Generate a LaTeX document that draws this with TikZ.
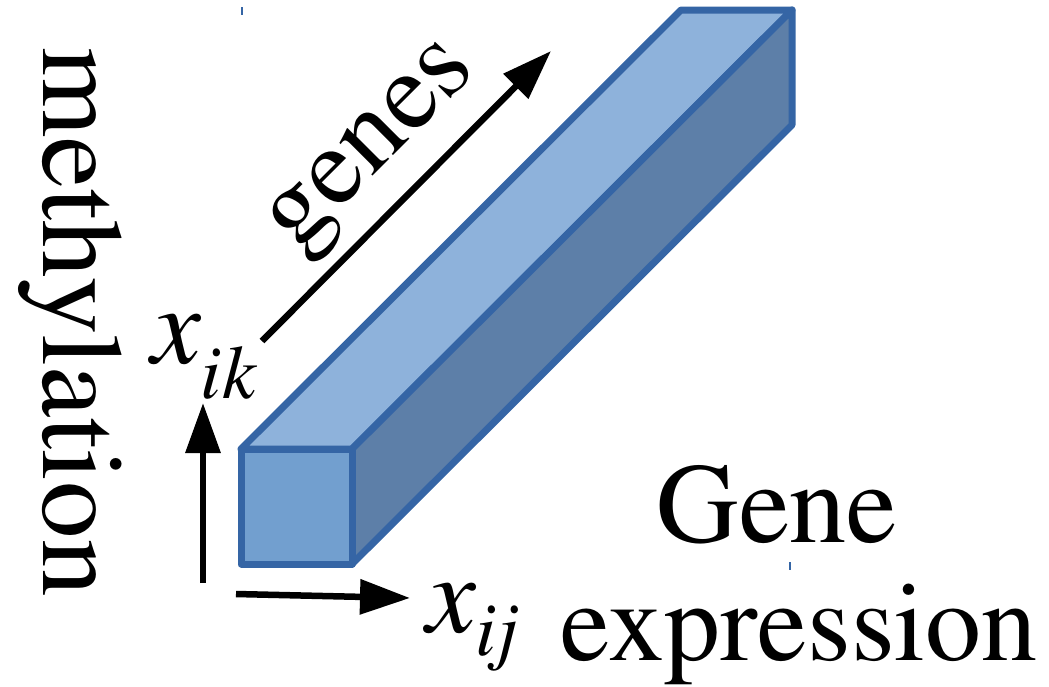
\documentclass[tikz,border=0pt]{standalone}
\usepackage[T1]{fontenc}
\usepackage{mathptmx}
\usetikzlibrary{arrows.meta}
\definecolor{edgeblue}{RGB}{53,101,165}
\definecolor{frontblue}{RGB}{114,159,207}
\definecolor{topblue}{RGB}{142,178,219}
\definecolor{sideblue}{RGB}{93,127,168}
\tikzset{
  face/.style={draw=edgeblue,line width=7pt,line join=round},
  axisarrow/.style={line width=6.5pt,-{Triangle[length=50pt,width=34pt]}},
  bigtext/.style={font=\rmfamily\fontsize{112}{112}\selectfont,inner sep=0pt},
  tick/.style={edgeblue,line width=2pt}
}
\begin{document}
\begin{tikzpicture}[x=1pt,y=-1pt]
\useasboundingbox (0,0) rectangle (1049,686);
% box corners
\coordinate (ftl) at (241,449);
\coordinate (ftr) at (352,449);
\coordinate (fbr) at (352,564);
\coordinate (fbl) at (241,564);
\coordinate (btl) at (681,10);
\coordinate (btr) at (792,10);
\coordinate (bbr) at (792,125);
% faces
\filldraw[face,fill=topblue] (ftl) -- (ftr) -- (btr) -- (btl) -- cycle;
\filldraw[face,fill=sideblue] (ftr) -- (btr) -- (bbr) -- (fbr) -- cycle;
\filldraw[face,fill=frontblue] (ftl) -- (ftr) -- (fbr) -- (fbl) -- cycle;
% stray ticks
\coordinate (t1a) at (242,7); \coordinate (t1b) at (242,15);
\coordinate (t2a) at (790,562); \coordinate (t2b) at (790,570);
\draw[tick] (t1a) -- (t1b);
\draw[tick] (t2a) -- (t2b);
% arrows
\coordinate (vs) at (203,583); \coordinate (ve) at (203,403);
\coordinate (hs) at (236,594); \coordinate (he) at (410,598);
\coordinate (gs) at (262,341); \coordinate (ge) at (551,51);
\draw[axisarrow] (vs) -- (ve);
\draw[axisarrow] (hs) -- (he);
\draw[axisarrow] (gs) -- (ge);
% labels
\node[bigtext,font=\rmfamily\fontsize{115}{115}\selectfont,anchor=base,rotate=-90] (meth) at (43,322) {methylation};
\node[bigtext,anchor=base,rotate=45] (genes) at (387,162) {genes};
\node[bigtext,font=\rmfamily\fontsize{114}{114}\selectfont,anchor=base] (gene) at (777,542) {Gene};
\node[bigtext,anchor=base] (expr) at (799,660) {expression};
\node[bigtext,anchor=base west] (xij) at (426,632) {\itshape x\raisebox{-23pt}{\fontsize{76}{76}\selectfont ij}};
\node[bigtext,anchor=base west] (xik) at (151,363) {\itshape x\raisebox{-35pt}{\fontsize{76}{76}\selectfont ik}};
\end{tikzpicture}
\end{document}
